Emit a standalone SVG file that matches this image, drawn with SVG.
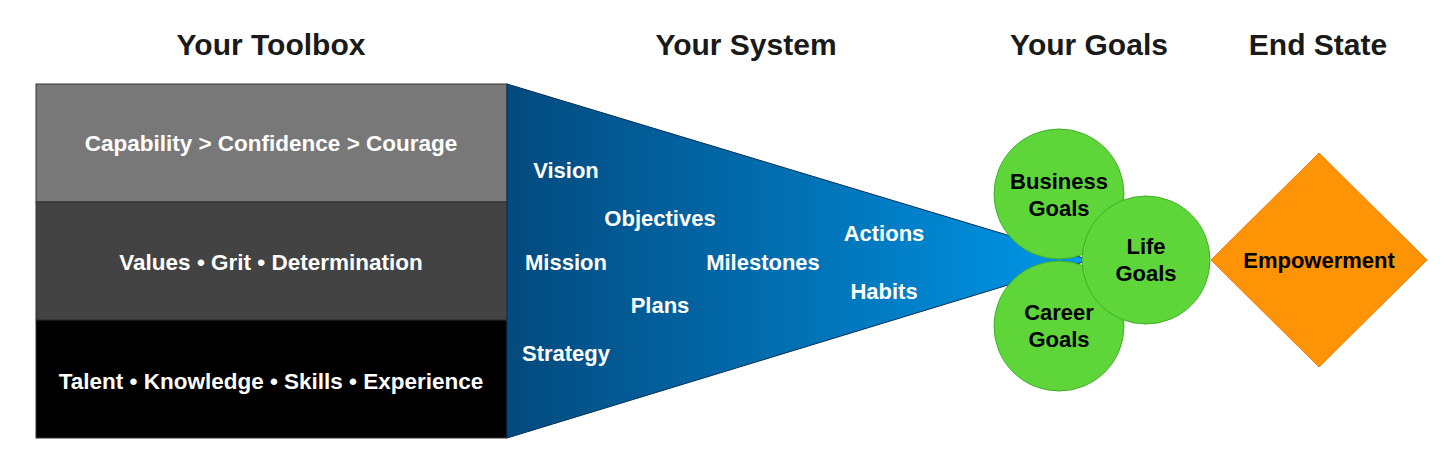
<svg xmlns="http://www.w3.org/2000/svg" width="1456" height="476" viewBox="0 0 1456 476">
<defs>
<linearGradient id="fg" x1="0" y1="0" x2="1" y2="0">
<stop offset="0" stop-color="#034a7e"/><stop offset="1" stop-color="#0098ea"/>
</linearGradient>
<style>
text{font-family:"Liberation Sans",Arial,sans-serif;font-weight:bold;text-anchor:middle}
.h{font-size:30px;fill:#1a1a1a}
.b{font-size:22.5px;fill:#fff}
.w{font-size:22px;fill:#fff}
.g{font-size:22px;fill:#000}
.c{fill:#5ed63a;stroke:#3fae27;stroke-width:1}
</style>
</defs>
<rect width="1456" height="476" fill="#fff"/>
<text class="h" x="271" y="55">Your Toolbox</text>
<text class="h" x="746" y="55">Your System</text>
<text class="h" x="1089" y="55">Your Goals</text>
<text class="h" x="1318" y="55">End State</text>
<g id="box1"><rect x="36" y="84" width="471" height="118" fill="#787878" stroke="#333"/><text class="b" x="271" y="151">Capability &gt; Confidence &gt; Courage</text></g>
<g id="box2"><rect x="36" y="202" width="471" height="118" fill="#434343" stroke="#333"/><text class="b" x="271" y="270">Values • Grit • Determination</text></g>
<g id="box3"><rect x="36" y="320" width="471" height="118" fill="#000" stroke="#333"/><text class="b" x="271" y="389">Talent • Knowledge • Skills • Experience</text></g>
<g id="funnel"><polygon points="507,84 1090,260 507,438" fill="url(#fg)" stroke="#0a2f55" stroke-width="1"/>
<text class="w" x="566" y="178">Vision</text>
<text class="w" x="660" y="226">Objectives</text>
<text class="w" x="884" y="241">Actions</text>
<text class="w" x="566" y="270">Mission</text>
<text class="w" x="763" y="270">Milestones</text>
<text class="w" x="884" y="299">Habits</text>
<text class="w" x="660" y="313">Plans</text>
<text class="w" x="566" y="361">Strategy</text>
</g>
<g id="business"><circle class="c" cx="1059" cy="194" r="65"/><text class="g" x="1059" y="189">Business</text><text class="g" x="1059" y="216">Goals</text></g>
<g id="career"><circle class="c" cx="1059" cy="326" r="65"/><text class="g" x="1059" y="320">Career</text><text class="g" x="1059" y="347">Goals</text></g>
<g id="life"><circle class="c" cx="1146" cy="260" r="64"/><text class="g" x="1146" y="254">Life</text><text class="g" x="1146" y="281">Goals</text></g>
<g id="empowerment"><polygon points="1319,153 1427,260 1319,367 1211,260" fill="#fd9305" stroke="#f07a00"/><text class="g" x="1319" y="268">Empowerment</text></g>
<g id="connectors"></g>
</svg>
